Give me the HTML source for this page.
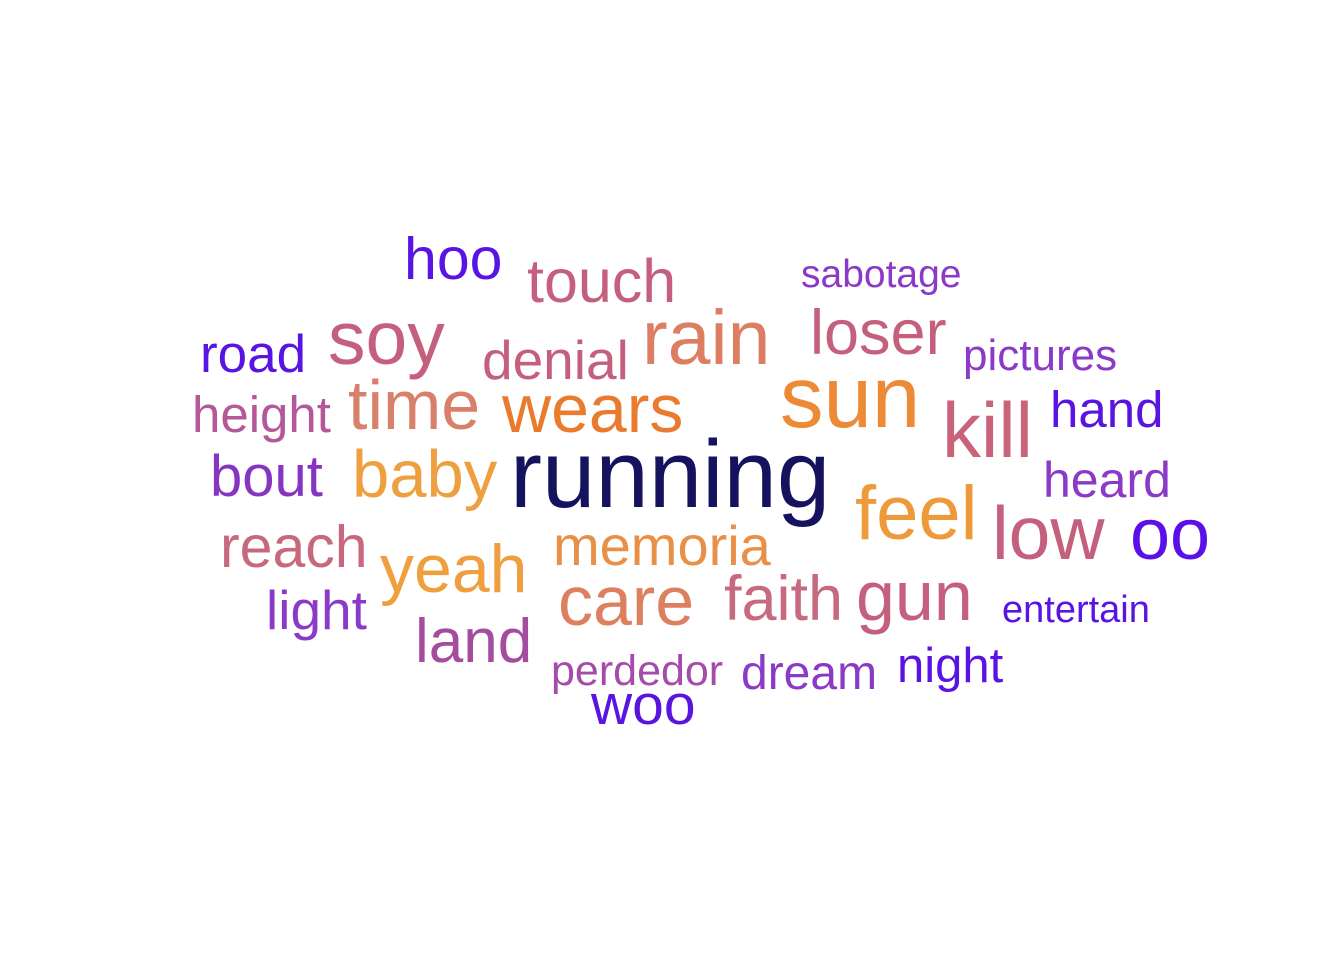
<!DOCTYPE html>
<html>
<head>
<meta charset="utf-8">
<style>
  html, body { margin: 0; padding: 0; background: #ffffff; }
  svg { display: block; }
  text { font-family: "Liberation Sans", Arial, sans-serif; }
</style>
</head>
<body>
<svg id="cloud" width="1344" height="960" viewBox="0 0 1344 960"></svg>
<script>
const words = ["running","sun","kill","feel","low","oo","rain","wears","time","soy","baby","yeah","care","gun","faith","memoria","land","reach","bout","height","road","hoo","touch","denial","loser","sabotage","pictures","hand","heard","entertain","night","dream","perdedor","woo","light"];
const sizes = [96,87,78,76,75,72,77,68,70,75,67,68,70,70,63,56,62,59,58,51,53,59,61,55,63,39,44,51,50,38,49,48,43,57,55];
const colors = ["#15125e","#ec8a35","#c9637a","#ef9a3a","#c4607e","#5b10e8","#dc7e62","#ea7a2e","#d8806a","#c4607e","#eea040","#ef9f3e","#dc8060","#c4607e","#c76a80","#e99048","#a44c9e","#c8687c","#8535c2","#b4589a","#5814e2","#5814e2","#c4607e","#c4607e","#c4607e","#8a3ac6","#8a3ac6","#5a14e2","#8a3ac6","#5a14e2","#5a14e2","#8a3ac6","#a44caa","#5a14e2","#8a3ac6"];
// layout from word-cloud placement (left x, baseline y)
const layout = [[510,507],[780,427],[942,457],[855,539],[992,559],[1130,559],[642,364],[502,432],[348,429],[328,364],[352,497],[380,592],[558,625],[856,620],[724,620],[553,565],[415,662],[220,567],[210,496],[192,432],[200,372],[404,279],[527,302],[482,379],[810,354],[801,287],[963,370],[1050,427],[1043,497],[1002,622],[897,682],[741,689],[551,685],[591,724],[266,629]];

const svg = document.getElementById('cloud');
const NS = 'http://www.w3.org/2000/svg';
for (let i = 0; i < words.length; i++) {
  const t = document.createElementNS(NS, 'text');
  t.setAttribute('x', layout[i][0]);
  t.setAttribute('y', layout[i][1]);
  t.setAttribute('font-size', sizes[i]);
  t.setAttribute('fill', colors[i]);
  t.textContent = words[i];
  
  
  svg.appendChild(t);
}
</script>
</body>
</html>
